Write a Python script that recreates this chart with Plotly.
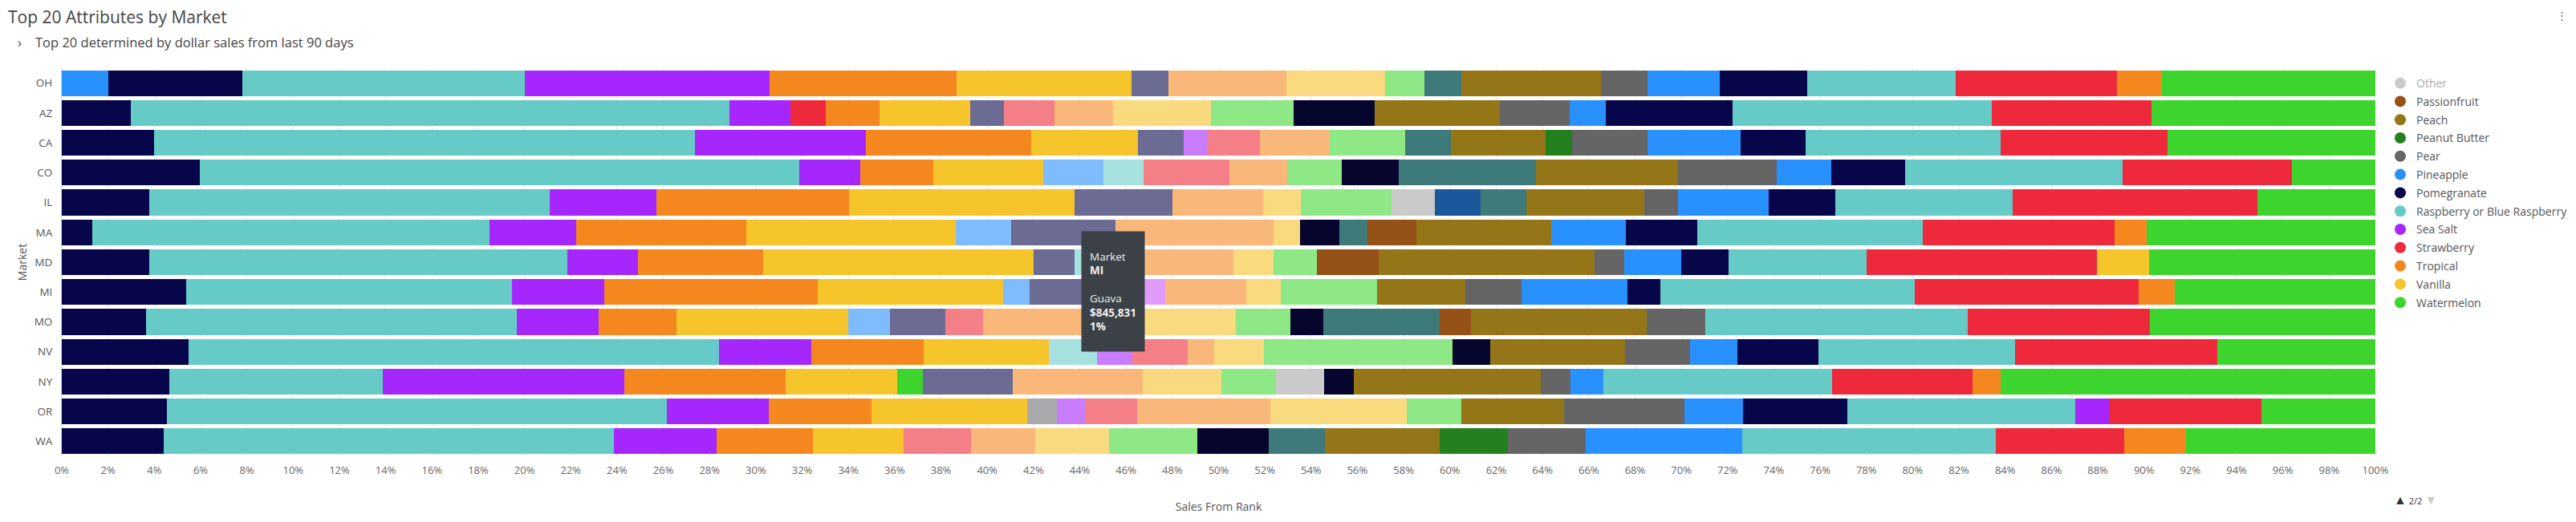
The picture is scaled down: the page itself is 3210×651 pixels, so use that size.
import plotly.graph_objects as go

# Markets, top to bottom
markets = ["OH", "AZ", "CA", "CO", "IL", "MA", "MD", "MI", "MO", "NV", "NY", "OR", "WA"]

# Attributes in stacking order, with their colours
attributes = [
    "Apple", "Banana", "Berry Blend", "Black Cherry", "Cherry", "Citrus", "Coconut",
    "Cucumber", "Grape", "Guava", "Honeydew", "Kiwi", "Lavender", "Lemon", "Lime",
    "Lychee", "Mango", "Melon", "Mint", "Mixed Berry", "Orange", "Original",
    "Passionfruit", "Peach", "Peanut Butter", "Pear", "Pineapple", "Pomegranate",
    "Raspberry or Blue Raspberry", "Sea Salt", "Strawberry", "Tropical", "Vanilla",
    "Watermelon",
]
colors = [
    "#2891fe", "#07064b", "#66cbc7", "#a527fe", "#ee293c", "#f5871f", "#f6c52b",
    "#3dd52d", "#7ebcfd", "#6b6b93", "#a6e1e0", "#a9a9ab", "#c97dfc", "#f57f87",
    "#e29afc", "#fab77a", "#f9da7e", "#8de885", "#cacacb", "#05052e", "#19589a",
    "#3e7a7a", "#955116", "#947619", "#247f1e", "#656566", "#2891fe", "#07064b",
    "#66cbc7", "#a527fe", "#ee293c", "#f5871f", "#f6c52b", "#3dd52d",
]

# legend page 2/2 (Other is switched off)
legend_items = ["Other", "Passionfruit", "Peach", "Peanut Butter", "Pear", "Pineapple",
                "Pomegranate", "Raspberry or Blue Raspberry", "Sea Salt", "Strawberry",
                "Tropical", "Vanilla", "Watermelon"]
other_color = "#999999"

# share of sales (%) per market
OH = {"Apple": 2.0, "Banana": 5.8, "Berry Blend": 12.2, "Black Cherry": 10.61, "Citrus": 8.07,
      "Coconut": 7.56, "Guava": 1.59, "Lychee": 5.11, "Mango": 4.25, "Melon": 1.7,
      "Original": 1.61, "Peach": 6.04, "Pear": 2.0, "Pineapple": 3.13, "Pomegranate": 3.76,
      "Raspberry or Blue Raspberry": 6.43, "Strawberry": 6.98, "Tropical": 1.95, "Watermelon": 9.21}
AZ = {"Banana": 3.0, "Berry Blend": 25.86, "Black Cherry": 2.63, "Cherry": 1.52, "Citrus": 2.34,
      "Coconut": 3.91, "Guava": 1.45, "Lemon": 2.21, "Lychee": 2.53, "Mango": 4.21, "Melon": 3.57,
      "Mixed Berry": 3.53, "Peach": 5.41, "Pear": 3.0, "Pineapple": 1.55, "Pomegranate": 5.48,
      "Raspberry or Blue Raspberry": 11.23, "Strawberry": 6.9, "Watermelon": 9.67}
CA = {"Banana": 4.0, "Berry Blend": 23.37, "Black Cherry": 7.4, "Citrus": 7.14, "Coconut": 4.6,
      "Guava": 1.99, "Lavender": 1.02, "Lemon": 2.25, "Lychee": 3.04, "Melon": 3.25,
      "Original": 1.99, "Peach": 4.09, "Peanut Butter": 1.15, "Pear": 3.25, "Pineapple": 4.03,
      "Pomegranate": 2.8, "Raspberry or Blue Raspberry": 8.44, "Strawberry": 7.22, "Watermelon": 8.97}
CO = {"Banana": 5.97, "Berry Blend": 25.89, "Black Cherry": 2.65, "Citrus": 3.17, "Coconut": 4.74,
      "Grape": 2.61, "Honeydew": 1.72, "Lemon": 3.72, "Lychee": 2.51, "Melon": 2.34,
      "Mixed Berry": 2.48, "Original": 5.92, "Peach": 6.14, "Pear": 4.26, "Pineapple": 2.37,
      "Pomegranate": 3.2, "Raspberry or Blue Raspberry": 9.4, "Strawberry": 7.31, "Watermelon": 3.6}
IL = {"Banana": 3.78, "Berry Blend": 17.31, "Black Cherry": 4.61, "Citrus": 8.34, "Coconut": 9.72,
      "Guava": 4.23, "Lychee": 3.94, "Mango": 1.64, "Melon": 3.91, "Mint": 1.87, "Orange": 1.97,
      "Original": 1.98, "Peach": 5.11, "Pear": 1.45, "Pineapple": 3.92, "Pomegranate": 2.88,
      "Raspberry or Blue Raspberry": 7.65, "Strawberry": 10.59, "Watermelon": 5.1}
MA = {"Banana": 1.32, "Berry Blend": 17.18, "Black Cherry": 3.74, "Citrus": 7.36, "Coconut": 9.03,
      "Grape": 2.42, "Guava": 4.49, "Lychee": 6.85, "Mango": 1.14, "Mixed Berry": 1.69,
      "Original": 1.22, "Passionfruit": 2.11, "Peach": 5.83, "Pineapple": 3.23, "Pomegranate": 3.09,
      "Raspberry or Blue Raspberry": 9.74, "Strawberry": 8.3, "Tropical": 1.39, "Watermelon": 9.87}
MD = {"Banana": 3.78, "Berry Blend": 18.06, "Black Cherry": 3.06, "Citrus": 5.4, "Coconut": 11.71,
      "Guava": 1.78, "Honeydew": 1.51, "Lychee": 5.35, "Mango": 1.72, "Melon": 1.87,
      "Passionfruit": 2.68, "Peach": 9.33, "Pear": 1.28, "Pineapple": 2.47, "Pomegranate": 2.03,
      "Raspberry or Blue Raspberry": 5.99, "Strawberry": 9.94, "Vanilla": 2.25, "Watermelon": 9.79}
MI = {"Banana": 5.39, "Berry Blend": 14.08, "Black Cherry": 3.97, "Citrus": 9.25, "Coconut": 8.0,
      "Grape": 1.15, "Guava": 2.66, "Lime": 3.21, "Lychee": 3.49, "Mango": 1.49, "Melon": 4.16,
      "Peach": 3.82, "Pear": 2.42, "Pineapple": 4.58, "Pomegranate": 1.41,
      "Raspberry or Blue Raspberry": 11.02, "Strawberry": 9.68, "Tropical": 1.54, "Watermelon": 8.68}
MO = {"Banana": 3.65, "Berry Blend": 16.03, "Black Cherry": 3.52, "Citrus": 3.36, "Coconut": 7.42,
      "Grape": 1.8, "Guava": 2.4, "Lemon": 1.65, "Lychee": 5.97, "Mango": 4.95, "Melon": 2.36,
      "Mixed Berry": 1.41, "Original": 5.05, "Passionfruit": 1.34, "Peach": 7.59, "Pear": 2.53,
      "Raspberry or Blue Raspberry": 11.36, "Strawberry": 7.86, "Watermelon": 9.75}
NV = {"Banana": 5.48, "Berry Blend": 22.93, "Black Cherry": 3.98, "Citrus": 4.88, "Coconut": 5.39,
      "Honeydew": 2.09, "Lavender": 1.51, "Lemon": 2.39, "Lychee": 1.16, "Mango": 2.15,
      "Melon": 8.14, "Mixed Berry": 1.65, "Peach": 5.83, "Pear": 2.79, "Pineapple": 2.04,
      "Pomegranate": 3.53, "Raspberry or Blue Raspberry": 8.5, "Strawberry": 8.72, "Watermelon": 6.84}
NY = {"Banana": 4.64, "Berry Blend": 9.25, "Black Cherry": 10.43, "Citrus": 6.95, "Coconut": 4.84,
      "Cucumber": 1.11, "Guava": 3.87, "Lychee": 5.64, "Mango": 3.38, "Melon": 2.37, "Mint": 2.09,
      "Mixed Berry": 1.28, "Peach": 8.09, "Pear": 1.27, "Pineapple": 1.41,
      "Raspberry or Blue Raspberry": 9.91, "Strawberry": 6.07, "Tropical": 1.2, "Watermelon": 16.2}
OR = {"Banana": 4.56, "Berry Blend": 21.61, "Black Cherry": 4.39, "Citrus": 4.45, "Coconut": 6.7,
      "Kiwi": 1.29, "Lavender": 1.21, "Lemon": 2.28, "Lychee": 5.74, "Mango": 5.92, "Melon": 2.35,
      "Peach": 4.42, "Pear": 5.2, "Pineapple": 2.54, "Pomegranate": 4.53,
      "Raspberry or Blue Raspberry": 9.82, "Sea Salt": 1.46, "Strawberry": 6.61, "Watermelon": 4.92}
WA = {"Banana": 4.4, "Berry Blend": 19.47, "Black Cherry": 4.45, "Citrus": 4.16, "Coconut": 3.91,
      "Lemon": 2.9, "Lychee": 2.79, "Mango": 3.18, "Melon": 3.83, "Mixed Berry": 3.09,
      "Original": 2.42, "Peach": 4.97, "Peanut Butter": 2.93, "Pear": 3.38, "Pineapple": 6.74,
      "Raspberry or Blue Raspberry": 10.97, "Strawberry": 5.54, "Tropical": 2.7, "Watermelon": 8.17}

rows = [OH, AZ, CA, CO, IL, MA, MD, MI, MO, NV, NY, OR, WA]

fig = go.Figure()

# legend entries (circles), tied to the bars through legendgroup
for name in legend_items:
    col = other_color if name == "Other" else colors[attributes.index(name)]
    fig.add_trace(go.Scatter(
        x=[None], y=[None], mode="markers", name=name, legendgroup=name,
        marker=dict(symbol="circle", size=14, color=col),
        visible="legendonly" if name == "Other" else True,
        hoverinfo="skip",
    ))

# stacked bars
for name, col in zip(attributes, colors):
    vals = [r.get(name, 0) for r in rows]
    fig.add_trace(go.Bar(
        y=markets, x=vals, orientation="h", name=name, legendgroup=name,
        showlegend=False, marker=dict(color=col, line=dict(width=0)),
        hovertemplate="Market<br><b>%{y}</b><br><br>" + name + "<br><b>%{x:.0f}%</b><extra></extra>",
    ))

# page body keeps an 8px margin, so the figure is 16px smaller than the window
W, H = 3194, 635
L, R, T, B = 69, 242, 77, 74
PW, PH = W - L - R, H - T - B


def px(x):  # window pixel -> paper x
    return (x - 8 - L) / PW


def py(y):  # window pixel -> paper y
    return (H - B - (y - 8)) / PH


fig.update_layout(
    width=W, height=H,
    barmode="stack", barnorm="percent", bargap=0.135,
    plot_bgcolor="white", paper_bgcolor="white",
    margin=dict(l=L, r=R, t=T, b=B, autoexpand=False),
    font=dict(family="Open Sans", color="#555555"),
    title=dict(text="Top 20 Attributes by Market", x=2 / W, xref="container", xanchor="left",
               y=1 - 13.5 / H, yref="container", yanchor="middle",
               font=dict(family="Open Sans", size=21, color="#444444")),
    legend=dict(x=px(2971), xanchor="left", y=py(88), yanchor="top", tracegroupgap=1.6,
                font=dict(size=14, color="#555555"), itemclick="toggle"),
    showlegend=True,
)

fig.update_xaxes(
    type="linear", range=[0, 100], dtick=2, ticksuffix="%", showgrid=True, gridcolor="#e6e6e6",
    gridwidth=1, zeroline=False, ticklabelstandoff=8, tickfont=dict(size=13, color="#666666"),
    title=dict(text="Sales From Rank", standoff=33, font=dict(size=14, color="#555555")),
)
fig.update_yaxes(
    type="category", categoryorder="array", categoryarray=markets, autorange="reversed",
    showline=True, linecolor="#ccd6eb", linewidth=1, showgrid=False, ticks="",
    ticklabelstandoff=8, tickfont=dict(size=13.5, color="#555555"),
    title=dict(text="Market", standoff=5, font=dict(size=14, color="#555555")),
)

# subtitle, legend pager, menu dots and the hover box seen in the screenshot
fig.add_annotation(text="›", xref="paper", yref="paper", x=px(24), y=py(52),
                   xanchor="center", yanchor="middle", showarrow=False,
                   font=dict(size=17, color="#444444"))
fig.add_annotation(text="Top 20 determined by dollar sales from last 90 days",
                   xref="paper", yref="paper", x=px(42), y=py(52),
                   xanchor="left", yanchor="middle", showarrow=False,
                   font=dict(size=16.5, color="#444444"))
fig.add_annotation(text="<span style='color:#333333;font-size:16px'>▲</span> 2/2 "
                        "<span style='color:#cccccc;font-size:16px'>▼</span>",
                   xref="paper", yref="paper", x=px(3010), y=py(623),
                   xanchor="center", yanchor="middle", showarrow=False,
                   font=dict(size=11, color="#333333"))
fig.add_annotation(text="⋮", xref="paper", yref="paper", x=px(3192), y=py(19),
                   xanchor="center", yanchor="middle", showarrow=False,
                   font=dict(size=13, color="#666666"))
fig.add_annotation(text="Market<br><b>MI</b><br><br>Guava<br><b>$845,831</b><br><b>1%</b>",
                   xref="paper", yref="paper", x=px(1347), y=py(288),
                   xanchor="left", yanchor="top", align="left", valign="middle", showarrow=False,
                   width=58, height=129, bgcolor="#3b4146", borderpad=10,
                   font=dict(size=13.5, color="#f0f0f0"))

fig.write_html("out.html")
